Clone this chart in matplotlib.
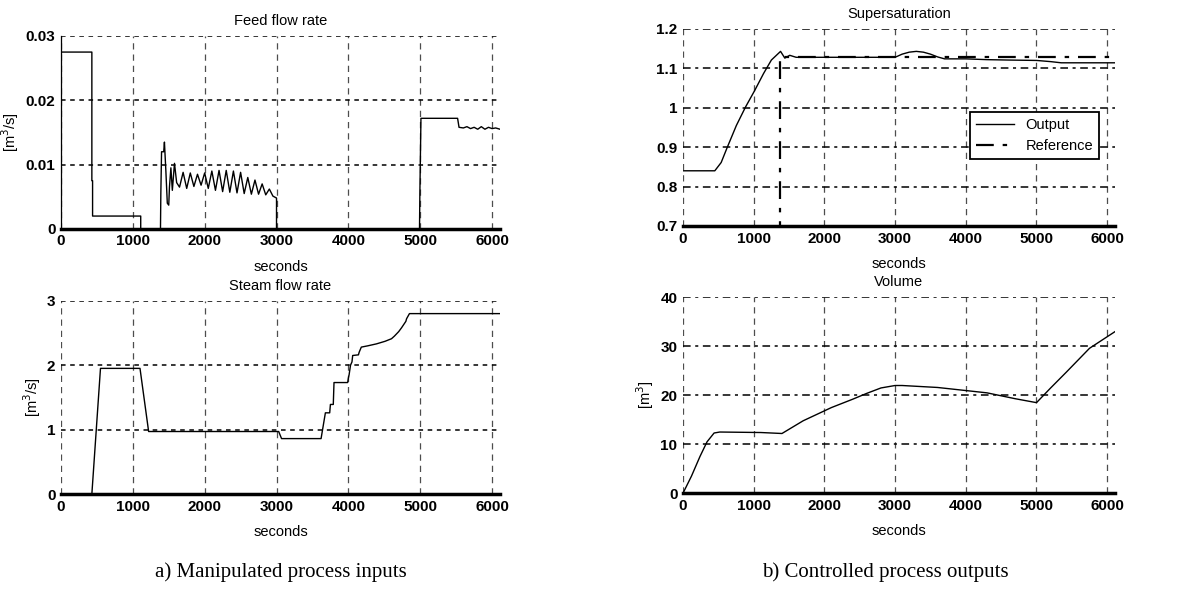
import matplotlib
matplotlib.use("Agg")
import matplotlib.pyplot as plt
from matplotlib.font_manager import FontProperties

# ---- data ----
feed_t = [0, 430, 430, 440, 440, 1110, 1110, 1385, 1390, 1400, 1430, 1440, 1460, 1480, 1500,
          1510, 1530, 1550, 1580, 1610, 1650, 1700, 1750, 1800, 1850, 1900, 1950, 2000, 2050,
          2100, 2150, 2200, 2250, 2300, 2350, 2400, 2450, 2500, 2550, 2600, 2650, 2700, 2750,
          2800, 2850, 2900, 2950, 3000, 3000, 4990, 4995, 5010, 5520, 5540, 5600, 5650, 5700,
          5750, 5800, 5850, 5900, 5950, 6000, 6050, 6110]
feed_v = [0.0275, 0.0275, 0.0075, 0.0075, 0.002, 0.002, 0, 0, 0.0055, 0.012, 0.012, 0.0135,
          0.009, 0.004, 0.0037, 0.0065, 0.0095, 0.006, 0.0102, 0.0072, 0.0065, 0.0088, 0.0063,
          0.0087, 0.0066, 0.0085, 0.0068, 0.0087, 0.0063, 0.009, 0.006, 0.0091, 0.0058, 0.0091,
          0.0057, 0.009, 0.0056, 0.0088, 0.0055, 0.008, 0.0054, 0.0076, 0.0054, 0.007, 0.0053,
          0.0062, 0.0051, 0.0048, 0, 0, 0.0055, 0.0172, 0.0172, 0.0158, 0.0157, 0.0159, 0.0156,
          0.0158, 0.0155, 0.0159, 0.0155, 0.0158, 0.0156, 0.0157, 0.0155]

steam_t = [0, 430, 550, 1100, 1220, 3030, 3070, 3620, 3680, 3740, 3750, 3790, 3800, 3990,
           4000, 4010, 4030, 4050, 4060, 4140, 4150, 4180, 4270, 4390, 4510, 4600, 4640, 4700,
           4740, 4800, 4810, 4850, 6110]
steam_v = [0, 0, 1.95, 1.95, 0.97, 0.97, 0.86, 0.86, 1.26, 1.26, 1.39, 1.39, 1.73, 1.73,
           1.8, 1.85, 2.0, 2.05, 2.15, 2.16, 2.2, 2.28, 2.3, 2.33, 2.37, 2.41, 2.45, 2.52,
           2.58, 2.68, 2.72, 2.8, 2.8]

ss_t = [0, 450, 540, 625, 755, 885, 1015, 1140, 1250, 1380, 1440, 1510, 1600, 3000, 3100,
        3200, 3300, 3400, 3500, 3600, 3700, 4000, 4300, 4600, 5000, 5200, 5350, 6110]
ss_v = [0.84, 0.84, 0.861, 0.899, 0.955, 1.002, 1.044, 1.087, 1.121, 1.143, 1.126, 1.133,
        1.128, 1.128, 1.136, 1.141, 1.143, 1.141, 1.136, 1.129, 1.124, 1.124, 1.122, 1.121,
        1.12, 1.117, 1.114, 1.114]
ref_t = [0, 1370, 1370, 6110]
ref_v = [0, 0, 1.128, 1.128]

vol_t = [0, 120, 240, 340, 440, 520, 1100, 1400, 1700, 2100, 2400, 2600, 2800, 3000, 3100,
         3600, 4300, 4700, 5000, 5200, 5420, 5750, 6110]
vol_v = [0, 3.5, 7.5, 10.5, 12.3, 12.5, 12.4, 12.2, 14.8, 17.5, 19.2, 20.4, 21.5, 22.0, 22.0,
         21.6, 20.5, 19.3, 18.5, 21.5, 24.7, 29.6, 33.0]

xticks = [0, 1000, 2000, 3000, 4000, 5000, 6000]

# ---- styling ----
tick_fp = FontProperties(family=['Liberation Sans', 'DejaVu Sans'], weight='bold', size=11)
lab_font = dict(family=['Liberation Sans', 'DejaVu Sans'], size=10.5)

fig = plt.figure(figsize=(11.93, 5.90), dpi=100)


def style_axes(ax, ylim, yticks, hgrid, left_spine=False):
    ax.set_xlim(0, 6110)
    ax.set_ylim(*ylim)
    ax.set_xticks(xticks)
    ax.set_yticks(yticks)
    ax.tick_params(length=0, pad=4)
    for lab in ax.get_xticklabels() + ax.get_yticklabels():
        lab.set_fontproperties(tick_fp)
    for s in ['top', 'right']:
        ax.spines[s].set_visible(False)
    ax.spines['left'].set_visible(left_spine)
    ax.spines['left'].set_linewidth(0.9)
    ax.spines['bottom'].set_linewidth(2.5)
    ax.yaxis.grid(True, linestyle=hgrid, color='black', linewidth=1.1)
    ax.xaxis.grid(True, linestyle=(0, (5, 4)), color='0.3', linewidth=0.9)
    ax.set_axisbelow(True)


# Feed flow rate
ax1 = fig.add_axes([0.0511, 0.612, 0.368, 0.327])
ax1.plot(feed_t, feed_v, color='black', linewidth=1)
style_axes(ax1, (0, 0.03), [0, 0.01, 0.02, 0.03], (0, (3, 3)), left_spine=True)
ax1.set_yticklabels(['0', '0.01', '0.02', '0.03'])
for lab in ax1.get_yticklabels():
    lab.set_fontproperties(tick_fp)
ax1.set_title('Feed flow rate', pad=8, **lab_font)
ax1.set_xlabel('seconds', labelpad=8, **lab_font)
ax1.set_ylabel('[m$^3$/s]', labelpad=3, **lab_font)

# Steam flow rate
ax2 = fig.add_axes([0.0511, 0.1627, 0.368, 0.3276])
ax2.plot(steam_t, steam_v, color='black', linewidth=1)
style_axes(ax2, (0, 3), [0, 1, 2, 3], (0, (3, 3)))
ax2.set_title('Steam flow rate', pad=8, **lab_font)
ax2.set_xlabel('seconds', labelpad=8, **lab_font)
ax2.set_ylabel('[m$^3$/s]', labelpad=3, **lab_font)

# Supersaturation
ax3 = fig.add_axes([0.5725, 0.617, 0.3621, 0.334])
ax3.plot(ss_t, ss_v, color='black', linewidth=1, label='Output')
ax3.plot(ref_t, ref_v, color='black', linewidth=1.6, linestyle=(0, (8, 4, 2, 4)),
         label='Reference')
style_axes(ax3, (0.7, 1.2), [0.7, 0.8, 0.9, 1.0, 1.1, 1.2], (0, (5, 3, 2, 3)))
ax3.set_yticklabels(['0.7', '0.8', '0.9', '1', '1.1', '1.2'])
for lab in ax3.get_yticklabels():
    lab.set_fontproperties(tick_fp)
ax3.set_title('Supersaturation', pad=8, **lab_font)
ax3.set_xlabel('seconds', labelpad=8, **lab_font)
leg = ax3.legend(loc='upper right', bbox_to_anchor=(0.98, 0.615), fancybox=False,
                 framealpha=1, edgecolor='black', handlelength=2.6,
                 prop=dict(family=['Liberation Sans', 'DejaVu Sans'], size=10.5))
leg.get_frame().set_linewidth(1.3)

# Volume
ax4 = fig.add_axes([0.5725, 0.164, 0.3621, 0.332])
ax4.plot(vol_t, vol_v, color='black', linewidth=1)
style_axes(ax4, (0, 40), [0, 10, 20, 30, 40], (0, (5, 3, 2, 3)))
ax4.set_title('Volume', pad=8, **lab_font)
ax4.set_xlabel('seconds', labelpad=8, **lab_font)
ax4.set_ylabel('[m$^3$]', labelpad=3, **lab_font)

cap_font = dict(family=['Liberation Serif', 'DejaVu Serif'], size=15)
fig.text(0.2355, 0.031, 'a) Manipulated process inputs', ha='center', va='center', **cap_font)
fig.text(0.742, 0.031, 'b) Controlled process outputs', ha='center', va='center', **cap_font)

fig.savefig('out.png', dpi=100)
